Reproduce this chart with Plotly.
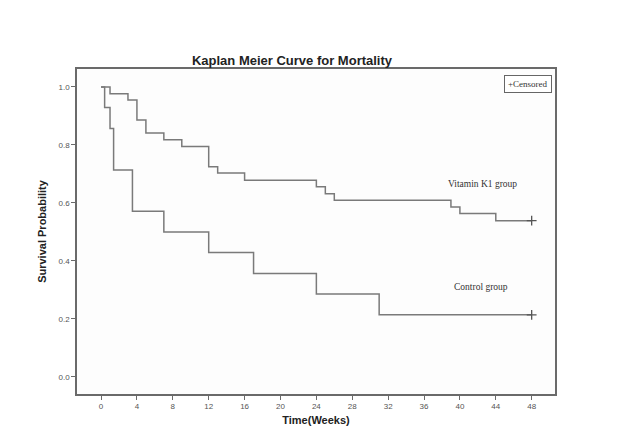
import plotly.graph_objects as go

# Vitamin K1 group: time (weeks) at which survival changes, and survival value from then on
vk_times = [0, 1, 3, 4, 5, 7, 9, 12, 13, 16, 24, 25, 26, 39, 40, 44, 48]
vk_surv = [1.0, 0.977, 0.955, 0.886, 0.841, 0.818, 0.795, 0.725, 0.703,
           0.678, 0.656, 0.632, 0.609, 0.586, 0.564, 0.539, 0.539]

# Control group
ctl_times = [0, 0.4, 1, 1.4, 3.5, 7, 12, 17, 24, 31, 48]
ctl_surv = [1.0, 0.929, 0.857, 0.714, 0.571, 0.5, 0.429, 0.357, 0.286, 0.214, 0.214]

# censored points at end of follow-up
cens_times = [48, 48]
cens_surv = [0.539, 0.214]

x_ticks = [0, 4, 8, 12, 16, 20, 24, 28, 32, 36, 40, 44, 48]
y_ticks = [0.0, 0.2, 0.4, 0.6, 0.8, 1.0]

line_col = "#7a7a7a"
axis_col = "#6a6a6a"

fig = go.Figure()

for times, surv in [(vk_times, vk_surv), (ctl_times, ctl_surv)]:
    fig.add_trace(go.Scatter(x=times, y=surv, mode="lines",
                             line_shape="hv",
                             line=dict(color=line_col, width=1.5),
                             showlegend=False, hoverinfo="skip"))

fig.add_trace(go.Scatter(x=cens_times, y=cens_surv, mode="markers",
                         marker=dict(symbol="cross-thin", size=7,
                                     line=dict(color="#555555", width=1.3)),
                         showlegend=False, hoverinfo="skip"))

W, H = 634, 440  # page body has an 8px margin in the 642x448 window
fig.update_layout(
    width=W, height=H,
    margin=dict(l=68.5, r=87, t=61, b=54.3),
    paper_bgcolor="white", plot_bgcolor="#fdfdfd",
    showlegend=False,
    title=dict(text="<b>Kaplan Meier Curve for Mortality</b>",
               x=284/W, xanchor="center", y=1-52/H, yanchor="middle",
               font=dict(family="Arial", size=13, color="#222222")),
    xaxis=dict(range=[-2.68, 50.6], tickvals=x_ticks,
               ticktext=[str(v) for v in x_ticks],
               ticks="outside", ticklen=4, tickcolor=axis_col, tickwidth=1,
               showgrid=False, zeroline=False, showline=True, linecolor=axis_col,
               linewidth=1.5, mirror=True,
               tickfont=dict(family="Arial", size=8, color="#555555"),
               title=dict(text="<b>Time(Weeks)</b>", standoff=6,
                          font=dict(family="Arial", size=11, color="#222222"))),
    yaxis=dict(range=[-0.059, 1.062], tickvals=y_ticks,
               ticktext=["%.1f" % v for v in y_ticks],
               ticks="outside", ticklen=4, tickcolor=axis_col, tickwidth=1,
               showgrid=False, zeroline=False, showline=True, linecolor=axis_col,
               linewidth=1.5, mirror=True,
               tickfont=dict(family="Arial", size=8, color="#555555"),
               title=dict(text="<b>Survival Probability</b>", standoff=10,
                          font=dict(family="Arial", size=11, color="#222222"))),
)

fig.add_annotation(xref="paper", yref="paper", x=0.993, y=0.982,
                   xanchor="right", yanchor="top", showarrow=False,
                   text="+Censored", bordercolor="#666666", borderwidth=1,
                   borderpad=3, bgcolor="white",
                   font=dict(family="Liberation Serif", size=9, color="#333333"))
fig.add_annotation(x=42.5, y=0.665, xref="x", yref="y", showarrow=False,
                   text="Vitamin K1 group",
                   font=dict(family="Liberation Serif", size=9.5, color="#333333"))
fig.add_annotation(x=42.3, y=0.31, xref="x", yref="y", showarrow=False,
                   text="Control group",
                   font=dict(family="Liberation Serif", size=9.5, color="#333333"))

fig.write_html("out.html")
